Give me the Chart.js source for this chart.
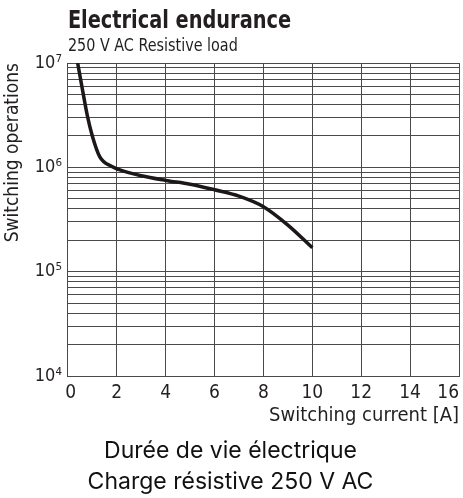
<!DOCTYPE html>
<html>
<head>
<meta charset="utf-8">
<script src="https://cdn.jsdelivr.net/npm/chart.js@4.4.1/dist/chart.umd.min.js"></script>
<style>
  html, body { margin: 0; padding: 0; background: #fff; }
  canvas { display: block; }
</style>
</head>
<body>
<canvas id="enduranceChart" width="463" height="498"></canvas>
<script>
// curve
const currentA = [0.4, 0.6, 0.8, 1.0, 1.3, 1.8, 2.1, 3.0, 4.0, 5.0, 6.0, 7.0, 8.0, 9.0, 10.0];
const operations = [1e7, 5.5e6, 3.1e6, 2.0e6, 1.27e6, 1.02e6, 0.95e6, 0.83e6, 0.75e6, 0.69e6, 0.61e6, 0.53e6, 0.42e6, 0.28e6, 0.17e6];

const xTicks = [0, 2, 4, 6, 8, 10, 12, 14, 16];
const yDecades = [1e4, 1e5, 1e6, 1e7];
const yDecadeLabels = ['10\u2074', '10\u2075', '10\u2076', '10\u2077'];

const narrow = '"DejaVu Sans Condensed", "Liberation Sans", sans-serif';
const gridColor = '#4a4a4a';

// header drawn at the left edge of the plot, squeezed like the condensed datasheet font
const headerPlugin = {
    id: 'header',
    afterDraw(chart) {
        const ctx = chart.ctx;
        const left = chart.chartArea.left;
        ctx.save();
        ctx.fillStyle = '#231f20';
        ctx.textBaseline = 'alphabetic';
        ctx.textAlign = 'left';
        ctx.save();
        ctx.translate(left, 28);
        ctx.scale(0.86, 1);
        ctx.font = 'bold 25px ' + narrow;
        ctx.fillText('Electrical endurance', 0, 0);
        ctx.restore();
        ctx.save();
        ctx.translate(left, 51);
        ctx.scale(0.94, 1);
        ctx.font = '17px ' + narrow;
        ctx.fillText('250 V AC Resistive load', 0, 0);
        ctx.restore();
        ctx.restore();
    }
};

new Chart(document.getElementById('enduranceChart'), {
    type: 'scatter',
    data: {
        datasets: [{
            label: 'Electrical endurance',
            data: currentA.map((x, i) => ({ x: x, y: operations[i] })),
            showLine: true,
            borderColor: '#1c1819',
            borderWidth: 3.5,
            pointRadius: 0,
            cubicInterpolationMode: 'monotone',
            fill: false
        }]
    },
    options: {
        responsive: false,
        animation: false,
        devicePixelRatio: 1,
        layout: { padding: { top: 63, right: 4, left: 2, bottom: 0 } },
        plugins: {
            legend: { display: false },
            tooltip: { enabled: false },
            title: {
                display: true,
                position: 'bottom',
                text: ['Durée de vie électrique', 'Charge résistive 250 V AC'],
                color: '#111',
                font: { family: 'Inter, "Liberation Sans", sans-serif', size: 23, weight: 'normal', lineHeight: 1.35 },
                padding: { top: 8, bottom: 0 }
            }
        },
        scales: {
            x: {
                type: 'linear',
                min: 0,
                max: 16,
                afterBuildTicks(scale) {
                    scale.ticks = xTicks.map(v => ({ value: v }));
                },
                afterFit(scale) {
                    scale.paddingRight = 0;
                },
                grid: { color: gridColor, lineWidth: 1, drawTicks: false },
                border: { color: gridColor, width: 1 },
                ticks: {
                    color: '#231f20',
                    padding: 6,
                    maxRotation: 0,
                    font: { family: narrow, size: 19 },
                    // last label sits inside the plot edge, as on the datasheet
                    callback(value) {
                        if (value === 16) return '16    ';
                        if (value === 0) return ' 0';
                        return String(value);
                    }
                },
                title: {
                    display: true,
                    text: 'Switching current [A]',
                    align: 'end',
                    color: '#231f20',
                    font: { family: narrow, size: 20 },
                    padding: { top: -7, bottom: 0 }
                }
            },
            y: {
                type: 'logarithmic',
                min: 1e4,
                max: 1e7,
                afterBuildTicks(scale) {
                    const t = [];
                    yDecades.forEach((d, i) => {
                        t.push({ value: d });
                        if (i < yDecades.length - 1) {
                            for (let m = 2; m <= 9; m++) t.push({ value: d * m });
                        }
                    });
                    scale.ticks = t;
                },
                grid: { color: gridColor, lineWidth: 1, drawTicks: false },
                border: { color: gridColor, width: 1 },
                ticks: {
                    color: '#231f20',
                    padding: 6,
                    autoSkip: false,
                    font: { family: narrow, size: 18 },
                    callback(value) {
                        const i = yDecades.indexOf(value);
                        return i >= 0 ? yDecadeLabels[i] : '';
                    }
                },
                title: {
                    display: true,
                    text: 'Switching operations',
                    align: 'end',
                    color: '#231f20',
                    font: { family: narrow, size: 19 },
                    padding: { top: 0, bottom: 4 }
                }
            }
        }
    },
    plugins: [headerPlugin]
});
</script>
</body>
</html>
